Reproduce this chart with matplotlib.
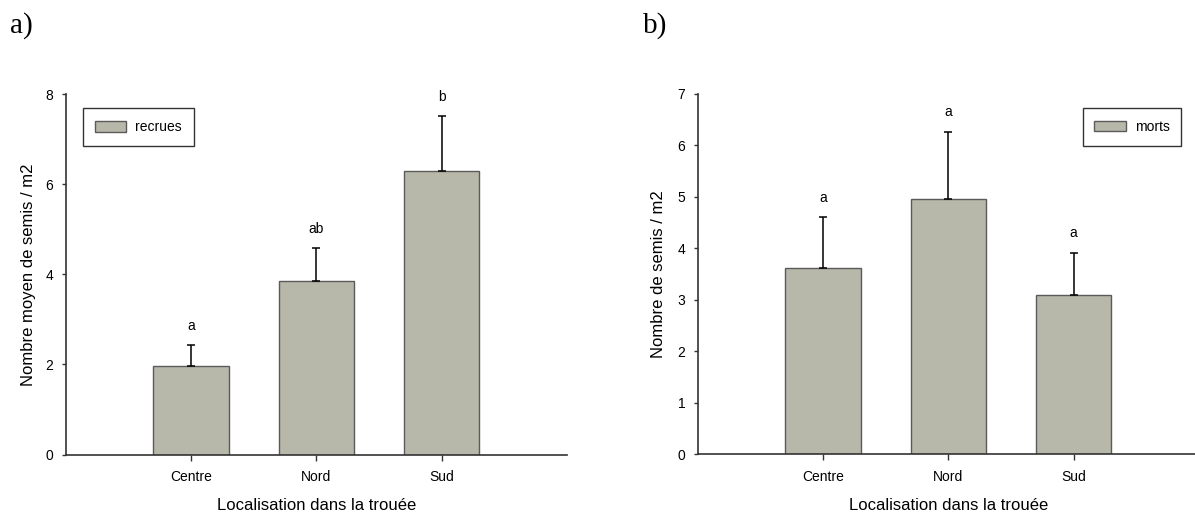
#!/usr/bin/env python3
import matplotlib
matplotlib.use("Agg")
import matplotlib.pyplot as plt

plt.rcParams['font.family'] = ['Liberation Sans', 'DejaVu Sans']

sites = ['Centre', 'Nord', 'Sud']

# a) semis recrutés
recrues_moy = [1.96, 3.85, 6.29]
recrues_err = [0.47, 0.73, 1.22]
recrues_lettres = ['a', 'ab', 'b']

# b) semis morts
morts_moy = [3.62, 4.96, 3.09]
morts_err = [0.98, 1.31, 0.82]
morts_lettres = ['a', 'a', 'a']

BAR_COLOR = '#b8b8aa'
LINE_COLOR = '#333333'


def draw_panel(ax, moy, err, lettres, ymax, ylabel, leg_label, leg_loc, leg_anchor, ylab_x):
    x = range(len(sites))
    ax.bar(x, moy, width=0.6, color=BAR_COLOR, edgecolor='#5a5a5a', linewidth=1.0,
           label=leg_label, zorder=2)
    ax.errorbar(x, moy, yerr=[[0] * len(err), err], fmt='none', ecolor='black',
                elinewidth=1.1, capsize=3, capthick=1.1, zorder=3)
    for i, (m, e, l) in enumerate(zip(moy, err, lettres)):
        ax.annotate(l, xy=(i, m + e), xytext=(0, 14), textcoords='offset points',
                    ha='center', va='center', fontsize=10)

    ax.set_xlim(-1, 3)
    ax.set_ylim(0, ymax)
    ax.set_yticks(range(0, ymax + 1, 2 if ymax == 8 else 1))
    ax.set_xticks(list(x))
    ax.set_xticklabels(sites)

    for side in ['top', 'right']:
        ax.spines[side].set_visible(False)
    for side in ['left', 'bottom']:
        ax.spines[side].set_color(LINE_COLOR)
        ax.spines[side].set_linewidth(1.2)
    ax.tick_params(axis='y', direction='out', length=3, width=1, colors=LINE_COLOR,
                   labelcolor='black', labelsize=10, pad=6)
    ax.tick_params(axis='x', direction='out', length=4.5, width=1, colors=LINE_COLOR,
                   labelcolor='black', labelsize=10, pad=7)

    ax.set_ylabel(ylabel, fontsize=12)
    ax.yaxis.set_label_coords(ylab_x, 0.5)
    ax.set_xlabel('Localisation dans la trouée', fontsize=12)
    ax.xaxis.set_label_coords(0.5, -0.122)

    leg = ax.legend(loc=leg_loc, bbox_to_anchor=leg_anchor, borderaxespad=0,
                    fontsize=10, handlelength=2.25, handleheight=0.75,
                    handletextpad=0.65, borderpad=0.85, fancybox=False,
                    framealpha=1, edgecolor=LINE_COLOR)
    leg.get_frame().set_linewidth(1.0)


fig = plt.figure(figsize=(11.95, 5.13), dpi=100)
ax1 = fig.add_axes([0.0550, 0.1140, 0.4193, 0.7027])
ax2 = fig.add_axes([0.5839, 0.1150, 0.4193, 0.7018])

draw_panel(ax1, recrues_moy, recrues_err, recrues_lettres, 8,
           'Nombre moyen de semis / m2', 'recrues', 'upper left', (0.035, 0.96), -0.0585)
draw_panel(ax2, morts_moy, morts_err, morts_lettres, 7,
           'Nombre de semis / m2', 'morts', 'upper right', (0.965, 0.96), -0.0625)

fig.text(0.008, 0.937, 'a)', family='Liberation Serif', fontsize=21, va='baseline')
fig.text(0.538, 0.937, 'b)', family='Liberation Serif', fontsize=21, va='baseline')

fig.savefig('out.png', dpi=100)
